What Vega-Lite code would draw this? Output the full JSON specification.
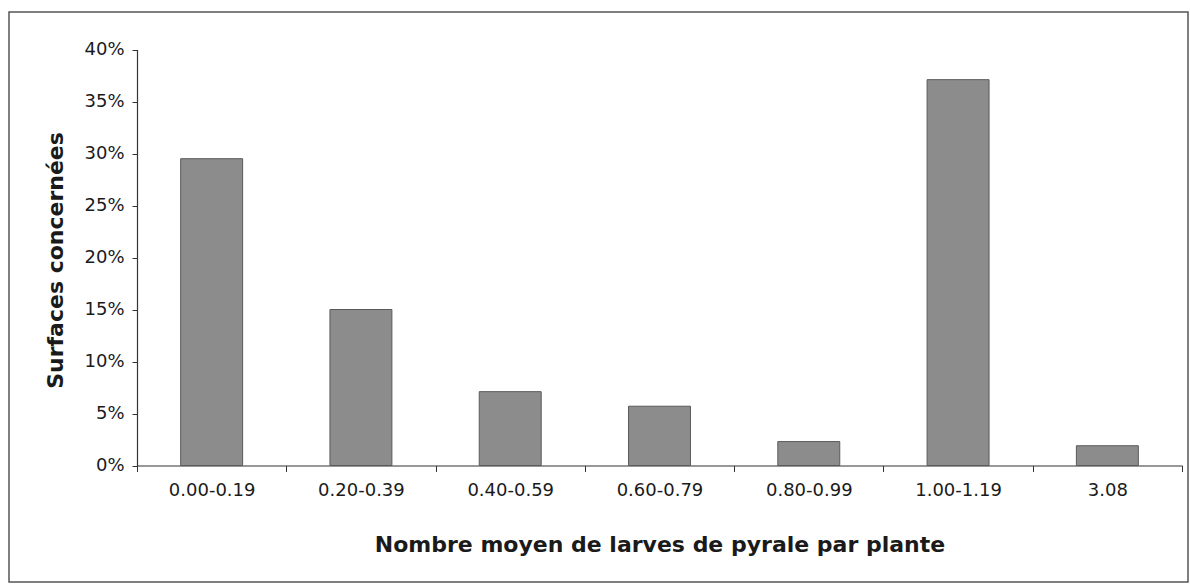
{
  "$schema": "https://vega.github.io/schema/vega-lite/v6.json",
  "width": 1179,
  "height": 570,
  "autosize": {"type": "none"},
  "padding": {"left": 9, "top": 12, "right": 2, "bottom": 4},
  "background": "white",
  "config": {
    "view": {"stroke": "#555555", "strokeWidth": 1.5},
    "font": "DejaVu Sans"
  },
  "data": {
    "values": [
      {"classe": "0.00-0.19", "surface": 0.295},
      {"classe": "0.20-0.39", "surface": 0.150},
      {"classe": "0.40-0.59", "surface": 0.071},
      {"classe": "0.60-0.79", "surface": 0.057},
      {"classe": "0.80-0.99", "surface": 0.023},
      {"classe": "1.00-1.19", "surface": 0.371},
      {"classe": "3.08", "surface": 0.019}
    ]
  },
  "mark": {"type": "bar", "color": "#8c8c8c", "stroke": "#5a5a5a", "strokeWidth": 1, "width": {"band": 0.415}},
  "encoding": {
    "x": {
      "field": "classe",
      "type": "ordinal",
      "sort": null,
      "scale": {"range": [128, 1173], "paddingInner": 0, "paddingOuter": 0},
      "axis": {
        "title": "Nombre moyen de larves de pyrale par plante",
        "offset": -116.5,
        "labelAngle": 0,
        "labelFont": "DejaVu Sans",
        "labelFontSize": 18,
        "labelColor": "#1a1a1a",
        "labelPadding": 10,
        "tickBand": "extent",
        "tickSize": 6,
        "tickColor": "#333333",
        "domainColor": "#333333",
        "domainWidth": 1.2,
        "titleFont": "DejaVu Sans",
        "titleFontSize": 22,
        "titleFontWeight": "bold",
        "titleColor": "#1a1a1a",
        "titleBaseline": "alphabetic",
        "titleY": 85.5,
        "grid": false
      }
    },
    "y": {
      "field": "surface",
      "type": "quantitative",
      "scale": {"domain": [0, 0.4], "range": [453.5, 37.5], "nice": false},
      "axis": {
        "title": "Surfaces concernées",
        "offset": -128,
        "values": [0, 0.05, 0.1, 0.15, 0.2, 0.25, 0.3, 0.35, 0.4],
        "format": ".0%",
        "labelFont": "DejaVu Sans",
        "labelFontSize": 18,
        "labelColor": "#1a1a1a",
        "labelPadding": 8,
        "tickSize": 5,
        "tickColor": "#333333",
        "domainColor": "#333333",
        "domainWidth": 1.2,
        "titleFont": "DejaVu Sans",
        "titleFontSize": 22,
        "titleFontWeight": "bold",
        "titleColor": "#1a1a1a",
        "titleBaseline": "alphabetic",
        "titleX": -75,
        "titleY": 248,
        "grid": false
      }
    }
  }
}
